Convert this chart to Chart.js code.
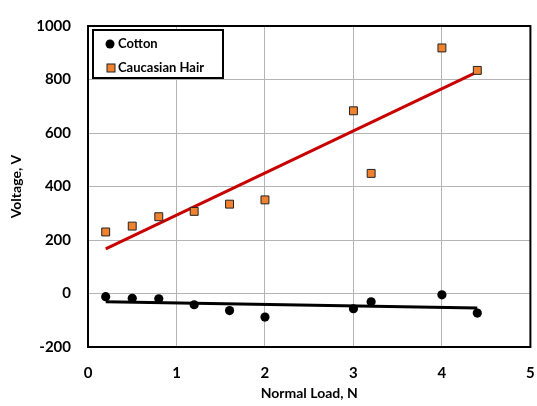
<!DOCTYPE html>
<html>
<head>
<meta charset="utf-8">
<script src="https://cdn.jsdelivr.net/npm/chart.js@4.4.1/dist/chart.umd.min.js"></script>
<style>
  html, body { margin: 0; padding: 0; background: #ffffff; }
  #wrap { width: 537px; height: 406px; }
</style>
</head>
<body>
<div id="wrap"><canvas id="chart" width="537" height="406"></canvas></div>
<script>
// Normal load (N) for each measurement
const loadCotton = [0.2, 0.5, 0.8, 1.2, 1.6, 2.0, 3.0, 3.2, 4.0, 4.4];
const voltCotton = [-12, -18, -20, -42, -64, -88, -57, -31, -5, -73];

const loadHair = [0.2, 0.5, 0.8, 1.2, 1.6, 2.0, 3.0, 3.2, 4.0, 4.4];
const voltHair = [230, 252, 287, 307, 334, 350, 683, 449, 918, 834];

const xTicks = [0, 1, 2, 3, 4, 5];
const yTicks = [-200, 0, 200, 400, 600, 800, 1000];

const seriesNames = ['Cotton', 'Caucasian Hair'];

const FONT = 'Lato, "Open Sans", "Liberation Sans", sans-serif';
const HAIR_FILL = '#f0822f';

// least-squares line through a series, spanning its first and last load
function trend(xs, ys) {
  const n = xs.length;
  const mx = xs.reduce((a, b) => a + b, 0) / n;
  const my = ys.reduce((a, b) => a + b, 0) / n;
  let sxy = 0, sxx = 0;
  for (let i = 0; i < n; i++) {
    sxy += (xs[i] - mx) * (ys[i] - my);
    sxx += (xs[i] - mx) * (xs[i] - mx);
  }
  const b = sxy / sxx, a = my - b * mx;
  const x0 = Math.min(...xs), x1 = Math.max(...xs);
  return [{ x: x0, y: a + b * x0 }, { x: x1, y: a + b * x1 }];
}

const pts = (xs, ys) => xs.map((x, i) => ({ x, y: ys[i] }));

// frame around the plot area
const frame = {
  id: 'frame',
  afterDatasetsDraw(chart) {
    const { ctx, chartArea: c } = chart;
    ctx.save();
    ctx.strokeStyle = '#000';
    ctx.lineWidth = 2;
    ctx.strokeRect(c.left, c.top, c.right - c.left, c.bottom - c.top);
    ctx.restore();
  }
};

// boxed legend sitting in the upper-left corner of the plot
const insetLegend = {
  id: 'insetLegend',
  afterDraw(chart) {
    const { ctx, chartArea: c } = chart;
    const x = c.left + 5, y = c.top + 4, w = 130, h = 48;
    ctx.save();
    ctx.fillStyle = '#fff';
    ctx.fillRect(x, y, w, h);
    ctx.strokeStyle = '#000';
    ctx.lineWidth = 2;
    ctx.strokeRect(x, y, w, h);
    ctx.font = 'bold 13px ' + FONT;
    ctx.textBaseline = 'middle';
    ctx.fillStyle = '#000';
    // Cotton marker
    ctx.beginPath();
    ctx.arc(x + 17, y + 14, 4.5, 0, Math.PI * 2);
    ctx.fill();
    ctx.fillText(seriesNames[0], x + 25, y + 14);
    // Hair marker
    ctx.fillStyle = HAIR_FILL;
    ctx.strokeStyle = '#222';
    ctx.lineWidth = 1;
    ctx.fillRect(x + 14, y + 34, 8, 8);
    ctx.strokeRect(x + 14, y + 34, 8, 8);
    ctx.fillStyle = '#000';
    ctx.fillText(seriesNames[1], x + 25, y + 38);
    ctx.restore();
  }
};

new Chart(document.getElementById('chart'), {
  type: 'scatter',
  data: {
    datasets: [
      {
        label: seriesNames[0],
        data: pts(loadCotton, voltCotton),
        pointStyle: 'circle',
        pointRadius: 4.6,
        backgroundColor: '#000',
        borderColor: '#000',
        borderWidth: 0,
        order: 0
      },
      {
        label: seriesNames[1],
        data: pts(loadHair, voltHair),
        pointStyle: 'rect',
        pointRadius: 5.6,
        backgroundColor: HAIR_FILL,
        borderColor: '#222',
        borderWidth: 1,
        order: 0
      },
      {
        label: 'Cotton fit',
        type: 'line',
        data: trend(loadCotton, voltCotton),
        borderColor: '#000',
        borderWidth: 3,
        pointRadius: 0,
        fill: false,
        order: 1
      },
      {
        label: 'Hair fit',
        type: 'line',
        data: trend(loadHair, voltHair),
        borderColor: '#c80000',
        borderWidth: 3,
        pointRadius: 0,
        fill: false,
        order: 1
      }
    ]
  },
  options: {
    responsive: false,
    animation: false,
    events: [],
    layout: { padding: { top: 19, right: 4, left: 4, bottom: 4 } },
    plugins: {
      legend: { display: false },
      tooltip: { enabled: false },
      title: { display: false }
    },
    scales: {
      x: {
        type: 'linear',
        min: 0, max: 5,
        afterBuildTicks(s) { s.ticks = xTicks.map(v => ({ value: v })); },
        afterFit(s) { s.height = 55; s.paddingRight = 4; s.paddingLeft = 4; },
        grid: { color: '#b4b4b4', lineWidth: 1, drawTicks: false },
        border: { display: false },
        ticks: {
          padding: 17,
          color: '#000',
          callback: v => String(v),
          font: { family: FONT, size: 15, weight: 'bold' }
        },
        title: {
          display: true,
          text: 'Normal Load, N',
          color: '#000',
          padding: { top: 8, bottom: 0 },
          font: { family: FONT, size: 14, weight: 'bold' }
        }
      },
      y: {
        type: 'linear',
        min: -200, max: 1000,
        afterBuildTicks(s) { s.ticks = yTicks.map(v => ({ value: v })); },
        afterFit(s) { s.width = 84; },
        grid: { color: '#b4b4b4', lineWidth: 1, drawTicks: false },
        border: { display: false },
        ticks: {
          padding: 17,
          color: '#000',
          callback: v => String(v),
          font: { family: FONT, size: 15, weight: 'bold' }
        },
        title: {
          display: true,
          text: 'Voltage, V',
          color: '#000',
          padding: { top: 4, bottom: 4 },
          font: { family: FONT, size: 14, weight: 'bold' }
        }
      }
    }
  },
  plugins: [frame, insetLegend]
});
</script>
</body>
</html>
